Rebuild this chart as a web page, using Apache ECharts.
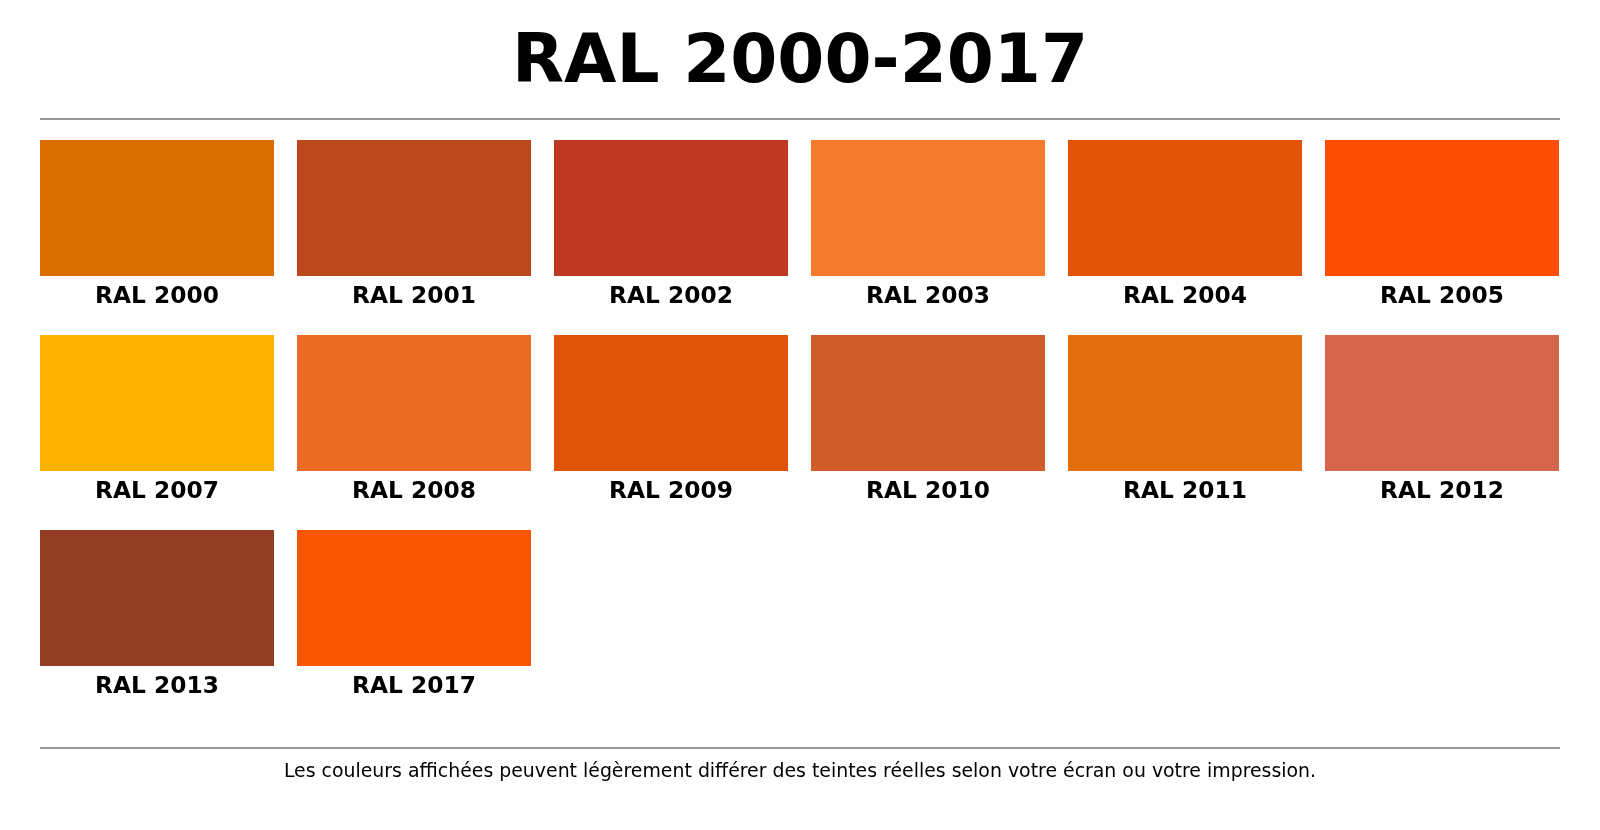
<!DOCTYPE html>
<html style="height: 100%">
<head>
    <meta charset="utf-8">
</head>
<body style="height: 100%; margin: 0; background: #fff">
<div id="container" style="width: 1600px; height: 830px"></div>
<script type="text/javascript" src="https://cdn.jsdelivr.net/npm/echarts@6/dist/echarts.min.js"></script>
<script type="text/javascript">
// RAL codes shown in the swatch grid, in reading order
var codes = ['RAL 2000', 'RAL 2001', 'RAL 2002', 'RAL 2003', 'RAL 2004', 'RAL 2005',
             'RAL 2007', 'RAL 2008', 'RAL 2009', 'RAL 2010', 'RAL 2011', 'RAL 2012',
             'RAL 2013', 'RAL 2017'];
var swatchColors = ['#DA6E00', '#BA481B', '#BF3922', '#F57A2C', '#E25303', '#FF4D06',
                    '#FFB200', '#EB6B25', '#DE5307', '#D05D28', '#E26E0E', '#D5654D',
                    '#923E25', '#FC5500'];
var columns = 6;
var titleText = 'RAL 2000-2017';
var footerText = 'Les couleurs affichées peuvent légèrement différer des teintes réelles selon votre écran ou votre impression.';

var FONT = 'DejaVu Sans';

var cells = codes.map(function (code, i) {
    return [i % columns, Math.floor(i / columns), code, swatchColors[i]];
});

var dom = document.getElementById('container');
var myChart = echarts.init(dom);

var option = {
    backgroundColor: '#fff',
    animation: false,
    title: {
        text: titleText,
        left: 'center',
        top: 30,
        padding: 0,
        textStyle: {
            fontFamily: FONT,
            fontSize: 67.7,
            fontWeight: 'bold',
            color: '#000'
        }
    },
    grid: {
        left: 40,
        top: 140,
        width: 1542,
        height: 585
    },
    xAxis: {
        type: 'value', min: 0, max: columns, show: false
    },
    yAxis: {
        type: 'value', min: 0, max: 3, inverse: true, show: false
    },
    graphic: [
        {
            type: 'line', silent: true,
            shape: { x1: 40, y1: 119, x2: 1560, y2: 119 },
            style: { stroke: '#959595', lineWidth: 2 }
        },
        {
            type: 'line', silent: true,
            shape: { x1: 40, y1: 748, x2: 1560, y2: 748 },
            style: { stroke: '#959595', lineWidth: 2 }
        },
        {
            type: 'text', silent: true,
            x: 800, y: 772,
            style: {
                text: footerText,
                fontFamily: FONT,
                fontSize: 18.9,
                fill: '#000',
                align: 'center',
                verticalAlign: 'middle'
            }
        }
    ],
    series: [{
        type: 'custom',
        data: cells,
        encode: { x: 0, y: 1 },
        renderItem: function (params, api) {
            var topLeft = api.coord([api.value(0), api.value(1)]);
            var pitch = api.size([1, 1]);
            var w = pitch[0] * 234 / 257;
            var h = pitch[1] * 136 / 195;
            var idx = params.dataIndex;
            return {
                type: 'group',
                children: [
                    {
                        type: 'rect',
                        shape: { x: topLeft[0], y: topLeft[1], width: w, height: h },
                        style: { fill: swatchColors[idx] }
                    },
                    {
                        type: 'text',
                        x: topLeft[0] + w / 2,
                        y: topLeft[1] + h + 21,
                        style: {
                            text: codes[idx],
                            fontFamily: FONT,
                            fontSize: 23.3,
                            fontWeight: 'bold',
                            fill: '#000',
                            align: 'center',
                            verticalAlign: 'middle'
                        }
                    }
                ]
            };
        }
    }]
};

myChart.setOption(option);
</script>
</body>
</html>
